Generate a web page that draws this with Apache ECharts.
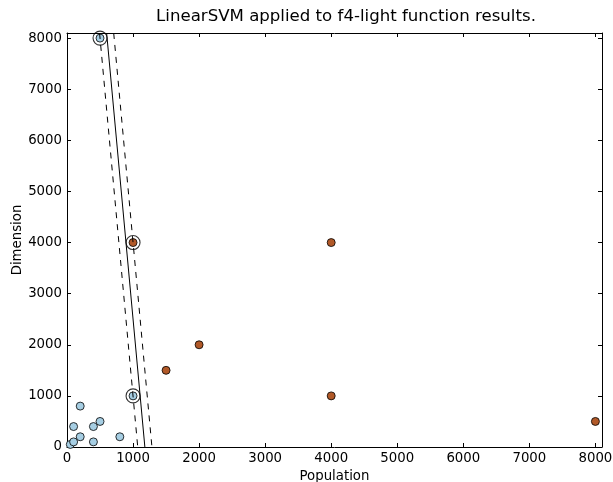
<!DOCTYPE html>
<html>
<head>
<meta charset="utf-8">
<script src="https://cdn.jsdelivr.net/npm/echarts@6/dist/echarts.min.js"></script>
<style>html,body{margin:0;padding:0;background:#fff}#c{width:613px;height:482px}</style>
</head>
<body>
<div id="c"></div>
<script>
// Class 0 (light blue) points: [population, dimension]
const class0 = [[50,50],[100,100],[100,400],[200,200],[200,800],[400,100],[400,400],[500,500],[800,200],[1000,1000],[500,8000]];
// Class 1 (brown) points
const class1 = [[1000,4000],[1500,1500],[2000,2000],[4000,4000],[4000,1000],[8000,500]];
// Support vectors (circled)
const supportVectors = [[500,8000],[1000,1000],[1000,4000]];
// Decision boundary and margins (data space)
const boundary = [[600,8100],[1179,0]];
const marginLow = [[493,8100],[1071,0]];
const marginHigh = [[707,8100],[1286,0]];
const tickValues = [0,1000,2000,3000,4000,5000,6000,7000,8000];

const font = 'DejaVu Sans';
const chart = echarts.init(document.getElementById('c'));
function axisCommon(show) {
  return {
    min: 0, max: 8100, interval: 1000,
    splitLine: {show: false},
    axisLine: {show: true, onZero: false, lineStyle: {color: '#000', width: 1}},
    axisTick: {show: true, inside: true, length: 4, lineStyle: {color: '#000'}, customValues: tickValues},
    axisLabel: {show: show, color: '#000', fontFamily: font, fontSize: 13.3, margin: 5,
      customValues: tickValues, formatter: function (v) { return String(v); }}
  };
}
chart.setOption({
  animation: false,
  title: {text: 'LinearSVM applied to f4-light function results.', left: 341, top: 3, textAlign: 'center',
    textStyle: {fontFamily: font, fontSize: 16.6, fontWeight: 'normal', color: '#000'}},
  grid: {left: 67, right: 11, top: 33, bottom: 35, outerBoundsMode: 'none', containLabel: false},
  xAxis: [
    Object.assign(axisCommon(true), {type: 'value', position: 'bottom', name: 'Population', nameLocation: 'middle', nameGap: 17,
      nameTextStyle: {fontFamily: font, fontSize: 13.3, color: '#000'}}),
    Object.assign(axisCommon(false), {type: 'value', position: 'top'})
  ],
  yAxis: [
    Object.assign(axisCommon(true), {type: 'value', position: 'left', name: 'Dimension', nameLocation: 'middle', nameGap: 43,
      nameMoveOverlap: false,
      nameTextStyle: {fontFamily: font, fontSize: 13.3, color: '#000'}}),
    Object.assign(axisCommon(false), {type: 'value', position: 'right'})
  ],
  series: [
    {type: 'line', data: boundary, symbol: 'none', lineStyle: {color: '#000', width: 1}, clip: true, silent: true},
    {type: 'line', data: marginLow, symbol: 'none', lineStyle: {color: '#000', width: 1, type: [6, 6]}, clip: true, silent: true},
    {type: 'line', data: marginHigh, symbol: 'none', lineStyle: {color: '#000', width: 1, type: [6, 6]}, clip: true, silent: true},
    {type: 'scatter', data: supportVectors, symbolSize: 14, itemStyle: {color: 'rgba(0,0,0,0)', borderColor: '#000', borderWidth: 1.1}},
    {type: 'scatter', data: class0, symbolSize: 8, itemStyle: {color: '#a6cee3', borderColor: '#000', borderWidth: 0.8, opacity: 1}},
    {type: 'scatter', data: class1, symbolSize: 8, itemStyle: {color: '#b15928', borderColor: '#000', borderWidth: 0.8, opacity: 1}}
  ]
});
</script>
</body>
</html>
